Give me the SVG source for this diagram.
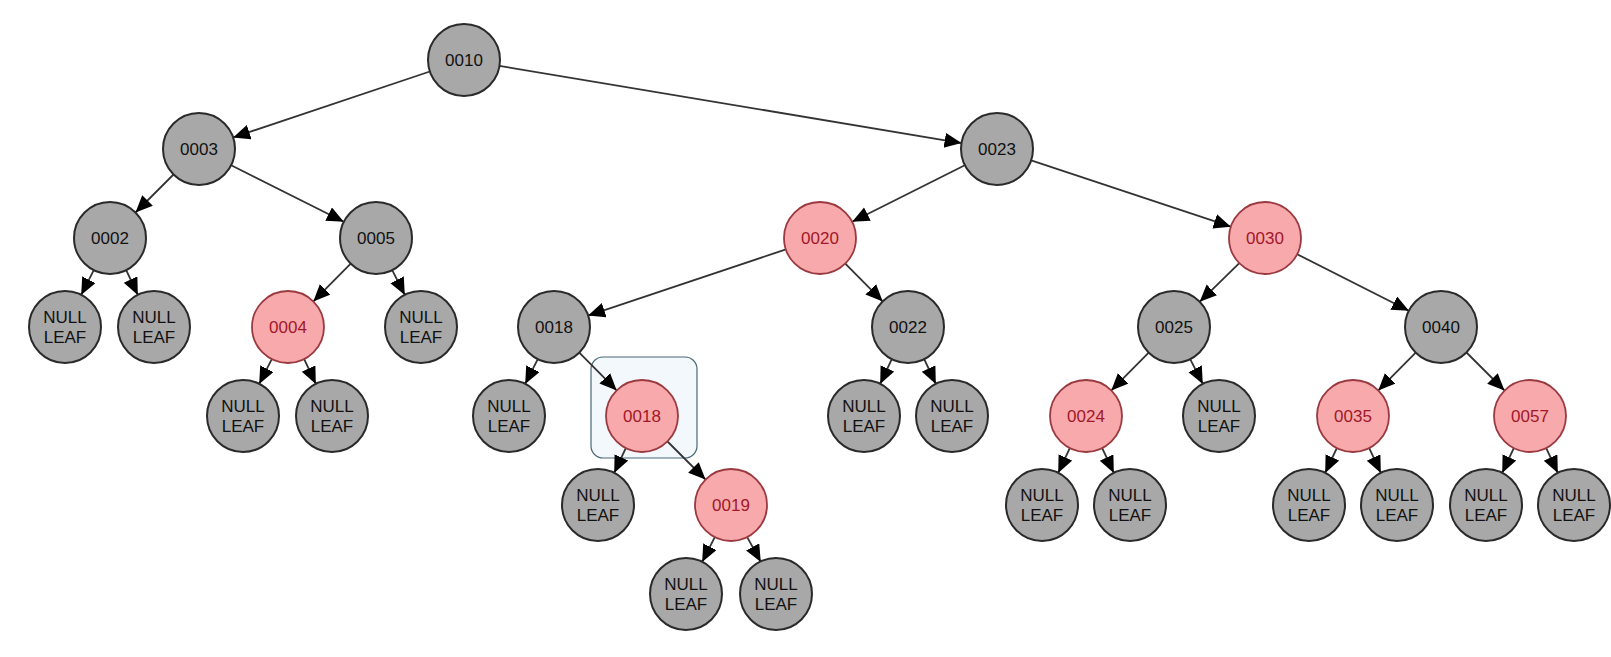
<svg xmlns="http://www.w3.org/2000/svg" width="1611" height="657" viewBox="0 0 1611 657">
<style>
.b circle{fill:#a8a8a8;stroke:#2a2a2a;stroke-width:2}
.r circle{fill:#f7a9ac;stroke:#9a3a40;stroke-width:1.8}
text{font-family:"Liberation Sans",Arial,sans-serif;font-size:17px;text-anchor:middle}
.b text{fill:#111}
.r text{fill:#a0182a}
#edges line{stroke:#333;stroke-width:1.8;marker-end:url(#ah)}
</style>
<defs>
<marker id="ah" markerUnits="userSpaceOnUse" markerWidth="18" markerHeight="16" refX="17" refY="7.5" orient="auto">
<path d="M0,0 L17,7.5 L0,15 z" fill="#000"/>
</marker>
</defs>
<rect width="1611" height="657" fill="#fff"/>
<rect id="highlight" x="591" y="357" width="106" height="101" rx="12" fill="#f3f8fc" stroke="#4a6878" stroke-width="1.2"/>
<g id="edges">
<line x1="429.9" y1="71.5" x2="233.1" y2="137.5"/>
<line x1="499.5" y1="65.9" x2="961.5" y2="143.1"/>
<line x1="173.5" y1="174.5" x2="135.5" y2="212.5"/>
<line x1="231.2" y1="165.2" x2="343.8" y2="221.8"/>
<line x1="964.8" y1="165.2" x2="852.2" y2="221.8"/>
<line x1="1031.2" y1="160.3" x2="1230.8" y2="226.7"/>
<line x1="93.8" y1="270.1" x2="81.2" y2="294.9"/>
<line x1="126.2" y1="270.1" x2="137.8" y2="294.9"/>
<line x1="350.7" y1="263.6" x2="313.3" y2="301.4"/>
<line x1="392.2" y1="270.1" x2="404.8" y2="294.9"/>
<line x1="785.9" y1="249.4" x2="588.1" y2="315.6"/>
<line x1="845.3" y1="263.6" x2="882.7" y2="301.4"/>
<line x1="1239.3" y1="263.2" x2="1199.7" y2="301.8"/>
<line x1="1297.1" y1="254.2" x2="1408.9" y2="310.8"/>
<line x1="271.8" y1="359.1" x2="259.2" y2="383.9"/>
<line x1="304.2" y1="359.1" x2="315.8" y2="383.9"/>
<line x1="537.8" y1="359.1" x2="525.2" y2="383.9"/>
<line x1="579.3" y1="352.6" x2="616.7" y2="390.4"/>
<line x1="891.8" y1="359.1" x2="880.2" y2="383.9"/>
<line x1="924.2" y1="359.1" x2="935.8" y2="383.9"/>
<line x1="1148.7" y1="352.6" x2="1111.3" y2="390.4"/>
<line x1="1190.2" y1="359.1" x2="1202.8" y2="383.9"/>
<line x1="1415.7" y1="352.6" x2="1378.3" y2="390.4"/>
<line x1="1466.5" y1="352.5" x2="1504.5" y2="390.5"/>
<line x1="625.8" y1="448.1" x2="614.2" y2="472.9"/>
<line x1="667.5" y1="441.5" x2="705.5" y2="479.5"/>
<line x1="1069.8" y1="448.1" x2="1058.2" y2="472.9"/>
<line x1="1102.2" y1="448.1" x2="1113.8" y2="472.9"/>
<line x1="1336.8" y1="448.1" x2="1325.2" y2="472.9"/>
<line x1="1369.2" y1="448.1" x2="1380.8" y2="472.9"/>
<line x1="1513.8" y1="448.1" x2="1502.2" y2="472.9"/>
<line x1="1546.2" y1="448.1" x2="1557.8" y2="472.9"/>
<line x1="714.8" y1="537.1" x2="702.2" y2="561.9"/>
<line x1="747.2" y1="537.1" x2="760.8" y2="561.9"/>
</g>
<g id="n0010" class="b"><circle cx="464" cy="60" r="36"/><text x="464" y="66">0010</text></g>
<g id="n0003" class="b"><circle cx="199" cy="149" r="36"/><text x="199" y="155">0003</text></g>
<g id="n0023" class="b"><circle cx="997" cy="149" r="36"/><text x="997" y="155">0023</text></g>
<g id="n0002" class="b"><circle cx="110" cy="238" r="36"/><text x="110" y="244">0002</text></g>
<g id="n0005" class="b"><circle cx="376" cy="238" r="36"/><text x="376" y="244">0005</text></g>
<g id="n0020" class="r"><circle cx="820" cy="238" r="36"/><text x="820" y="244">0020</text></g>
<g id="n0030" class="r"><circle cx="1265" cy="238" r="36"/><text x="1265" y="244">0030</text></g>
<g id="null1" class="b"><circle cx="65" cy="327" r="36"/><text x="65" y="323">NULL</text><text x="65" y="343">LEAF</text></g>
<g id="null2" class="b"><circle cx="154" cy="327" r="36"/><text x="154" y="323">NULL</text><text x="154" y="343">LEAF</text></g>
<g id="n0004" class="r"><circle cx="288" cy="327" r="36"/><text x="288" y="333">0004</text></g>
<g id="null3" class="b"><circle cx="421" cy="327" r="36"/><text x="421" y="323">NULL</text><text x="421" y="343">LEAF</text></g>
<g id="n0018a" class="b"><circle cx="554" cy="327" r="36"/><text x="554" y="333">0018</text></g>
<g id="n0022" class="b"><circle cx="908" cy="327" r="36"/><text x="908" y="333">0022</text></g>
<g id="n0025" class="b"><circle cx="1174" cy="327" r="36"/><text x="1174" y="333">0025</text></g>
<g id="n0040" class="b"><circle cx="1441" cy="327" r="36"/><text x="1441" y="333">0040</text></g>
<g id="null4" class="b"><circle cx="243" cy="416" r="36"/><text x="243" y="412">NULL</text><text x="243" y="432">LEAF</text></g>
<g id="null5" class="b"><circle cx="332" cy="416" r="36"/><text x="332" y="412">NULL</text><text x="332" y="432">LEAF</text></g>
<g id="null6" class="b"><circle cx="509" cy="416" r="36"/><text x="509" y="412">NULL</text><text x="509" y="432">LEAF</text></g>
<g id="n0018b" class="r"><circle cx="642" cy="416" r="36"/><text x="642" y="422">0018</text></g>
<g id="null7" class="b"><circle cx="864" cy="416" r="36"/><text x="864" y="412">NULL</text><text x="864" y="432">LEAF</text></g>
<g id="null8" class="b"><circle cx="952" cy="416" r="36"/><text x="952" y="412">NULL</text><text x="952" y="432">LEAF</text></g>
<g id="n0024" class="r"><circle cx="1086" cy="416" r="36"/><text x="1086" y="422">0024</text></g>
<g id="null9" class="b"><circle cx="1219" cy="416" r="36"/><text x="1219" y="412">NULL</text><text x="1219" y="432">LEAF</text></g>
<g id="n0035" class="r"><circle cx="1353" cy="416" r="36"/><text x="1353" y="422">0035</text></g>
<g id="n0057" class="r"><circle cx="1530" cy="416" r="36"/><text x="1530" y="422">0057</text></g>
<g id="null10" class="b"><circle cx="598" cy="505" r="36"/><text x="598" y="501">NULL</text><text x="598" y="521">LEAF</text></g>
<g id="n0019" class="r"><circle cx="731" cy="505" r="36"/><text x="731" y="511">0019</text></g>
<g id="null11" class="b"><circle cx="1042" cy="505" r="36"/><text x="1042" y="501">NULL</text><text x="1042" y="521">LEAF</text></g>
<g id="null12" class="b"><circle cx="1130" cy="505" r="36"/><text x="1130" y="501">NULL</text><text x="1130" y="521">LEAF</text></g>
<g id="null13" class="b"><circle cx="1309" cy="505" r="36"/><text x="1309" y="501">NULL</text><text x="1309" y="521">LEAF</text></g>
<g id="null14" class="b"><circle cx="1397" cy="505" r="36"/><text x="1397" y="501">NULL</text><text x="1397" y="521">LEAF</text></g>
<g id="null15" class="b"><circle cx="1486" cy="505" r="36"/><text x="1486" y="501">NULL</text><text x="1486" y="521">LEAF</text></g>
<g id="null16" class="b"><circle cx="1574" cy="505" r="36"/><text x="1574" y="501">NULL</text><text x="1574" y="521">LEAF</text></g>
<g id="null17" class="b"><circle cx="686" cy="594" r="36"/><text x="686" y="590">NULL</text><text x="686" y="610">LEAF</text></g>
<g id="null18" class="b"><circle cx="776" cy="594" r="36"/><text x="776" y="590">NULL</text><text x="776" y="610">LEAF</text></g>
</svg>
